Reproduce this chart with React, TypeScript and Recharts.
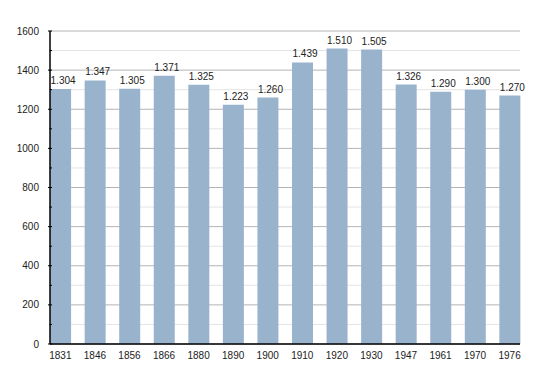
import { BarChart, Bar, XAxis, YAxis, CartesianGrid, LabelList } from "recharts";

const YEARS = ["1831", "1846", "1856", "1866", "1880", "1890", "1900", "1910", "1920", "1930", "1947", "1961", "1970", "1976"];
const POPULATION = [1304, 1347, 1305, 1371, 1325, 1223, 1260, 1439, 1510, 1505, 1326, 1290, 1300, 1270];
const MAJOR_TICKS = [0, 200, 400, 600, 800, 1000, 1200, 1400, 1600];
const MINOR_TICKS = [100, 300, 500, 700, 900, 1100, 1300, 1500];

const BAR_FILL = "#99b3cd";
const TEXT = "#222";
const FONT = "'Liberation Sans', Arial, sans-serif";

const data = YEARS.map((year, i) => ({ idx: i, year, value: POPULATION[i] }));

// german thousands separator: 1304 -> "1.304"
function fmt(v: number): string {
  const t = Math.floor(v / 1000);
  const r = v % 1000;
  return t > 0 ? `${t}.${String(r).padStart(3, "0")}` : String(r);
}

function YTick(props: any) {
  const { x, y, payload } = props;
  const v = payload.value as number;
  const major = v % 200 === 0;
  return (
    <g>
      <line x1={x + (major ? 6 : 7.5)} x2={x + 10} y1={y} y2={y} stroke="#000" strokeWidth={1} />
      {major && (
        <text x={x - 3} y={y} dy={3.5} textAnchor="end" fontSize={10} fill={TEXT} fontFamily={FONT}>
          {v}
        </text>
      )}
    </g>
  );
}

export default function App() {
  const allTicks = [...MAJOR_TICKS, ...MINOR_TICKS].sort((a, b) => a - b);
  return (
    <div style={{ position: "absolute", left: 0, top: 0, width: 550, height: 374, background: "#fff" }}>
      <BarChart width={550} height={374} data={data} margin={{ top: 31, right: 30, left: 0, bottom: 0 }}>
        <CartesianGrid horizontalValues={MINOR_TICKS} vertical={false} stroke="#e4e4e4" strokeWidth={1} />
        <CartesianGrid horizontalValues={MAJOR_TICKS} vertical={false} stroke="#b4b4b4" strokeWidth={1} />
        <XAxis
          dataKey="idx"
          type="number"
          domain={[-0.3, 13.3]}
          ticks={YEARS.map((_, i) => i)}
          tickFormatter={(i: number) => YEARS[i]}
          interval={0}
          height={30}
          axisLine={{ stroke: "#000", strokeWidth: 1.5 }}
          tickLine={false}
          tick={{ fontSize: 10, fill: TEXT, fontFamily: FONT }}
          tickMargin={2}
        />
        <YAxis
          domain={[0, 1600]}
          ticks={allTicks}
          interval={0}
          width={50}
          axisLine={{ stroke: "#000", strokeWidth: 1.5 }}
          tickLine={false}
          tick={<YTick />}
        />
        <Bar dataKey="value" fill={BAR_FILL} barSize={21} isAnimationActive={false}>
          <LabelList
            dataKey="value"
            position="top"
            offset={5}
            dx={2.5}
            formatter={(v: any) => fmt(Number(v))}
            style={{ fontSize: 10, fill: TEXT, fontFamily: FONT }}
          />
        </Bar>
      </BarChart>
    </div>
  );
}
